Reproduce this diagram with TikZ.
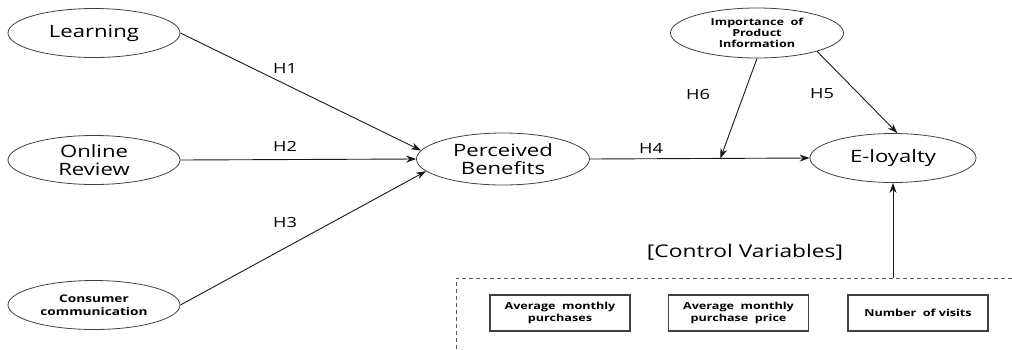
\documentclass[tikz,border=0pt]{standalone}
\usepackage{fontspec}
\setmainfont{Open Sans}[FakeStretch=1.3]
\usetikzlibrary{shapes.geometric,arrows.meta,calc}
\begin{document}
\begin{tikzpicture}[x=1pt,y=-1pt,
  ell/.style={ellipse, draw=black!75, line width=0.8pt, minimum width=172pt, minimum height=49pt, inner sep=0pt, align=center},
  bigtxt/.style={font=\fontsize{17}{18.5}\selectfont},
  smalltxt/.style={font=\bfseries\fontsize{10.5}{13.5}\selectfont},
  imptxt/.style={font=\bfseries\fontsize{9.7}{11}\selectfont},
  hlab/.style={font=\fontsize{14}{15}\selectfont, inner sep=0pt},
  arr/.style={-{Stealth[length=10pt,width=7pt]}, line width=0.9pt, black!90},
  cbox/.style={draw=black!75, line width=1.1pt, minimum width=140pt, minimum height=36pt, inner sep=0pt, align=center, font=\bfseries\fontsize{9.7}{12}\selectfont},
  dashline/.style={draw=black!65, line width=0.8pt, dash pattern=on 4pt off 3pt}
]
\useasboundingbox (0,0) rectangle (1012,349);

\node[ell, bigtxt] (learn) at (94,33) {Learning};
\node[ell, bigtxt] (rev) at (94,160) {Online\\Review};
\node[ell, smalltxt] (cons) at (94,305) {Consumer\\communication};
\node[ell, bigtxt, minimum width=173pt, minimum height=52pt] (pb) at (503,159) {Perceived\\Benefits};
\node[ell, imptxt, minimum width=173pt, minimum height=50pt] (imp) at (757,33) {Importance~ of\\Product\\Information};
\node[ell, bigtxt, minimum width=166pt] (el) at (893,158) {E-loyalty};

\draw[arr] (learn.east) -- (pb.174);
\draw[arr] (rev.east) -- (pb.west);
\draw[arr] (cons.east) -- (pb.189);
\draw[arr] (pb.east) -- (el.west);
\coordinate (mod) at ($(pb.east)!0.594!(el.west)$);
\draw[arr] (imp.south) -- (mod);
\draw[arr] (imp.-17) -- (el.80);

\node[hlab] (h1) at (285,68) {H1};
\node[hlab] (h2) at (285,146) {H2};
\node[hlab] (h3) at (285,222) {H3};
\node[hlab] (h4) at (651,148) {H4};
\node[hlab] (h6) at (698,94) {H6};
\node[hlab] (h5) at (822,94) {H5};

\node[font=\fontsize{17.5}{19}\selectfont, inner sep=0pt] (cv) at (745,252) {[Control Variables]};

\coordinate (dtr) at (1012,278);
\coordinate (dtl) at (456,278);
\coordinate (dbl) at (456,349);
\draw[dashline] (dtr) -- (dtl) -- (dbl);

\coordinate (ctl) at (893,278);
\draw[arr] (ctl) -- (el.south);

\node[cbox] (b1) at (560,313) {Average~ monthly\\purchases};
\node[cbox] (b2) at (738.5,313) {Average~ monthly\\purchase~ price};
\node[cbox] (b3) at (918,313) {Number~ of visits};
\end{tikzpicture}
\end{document}
